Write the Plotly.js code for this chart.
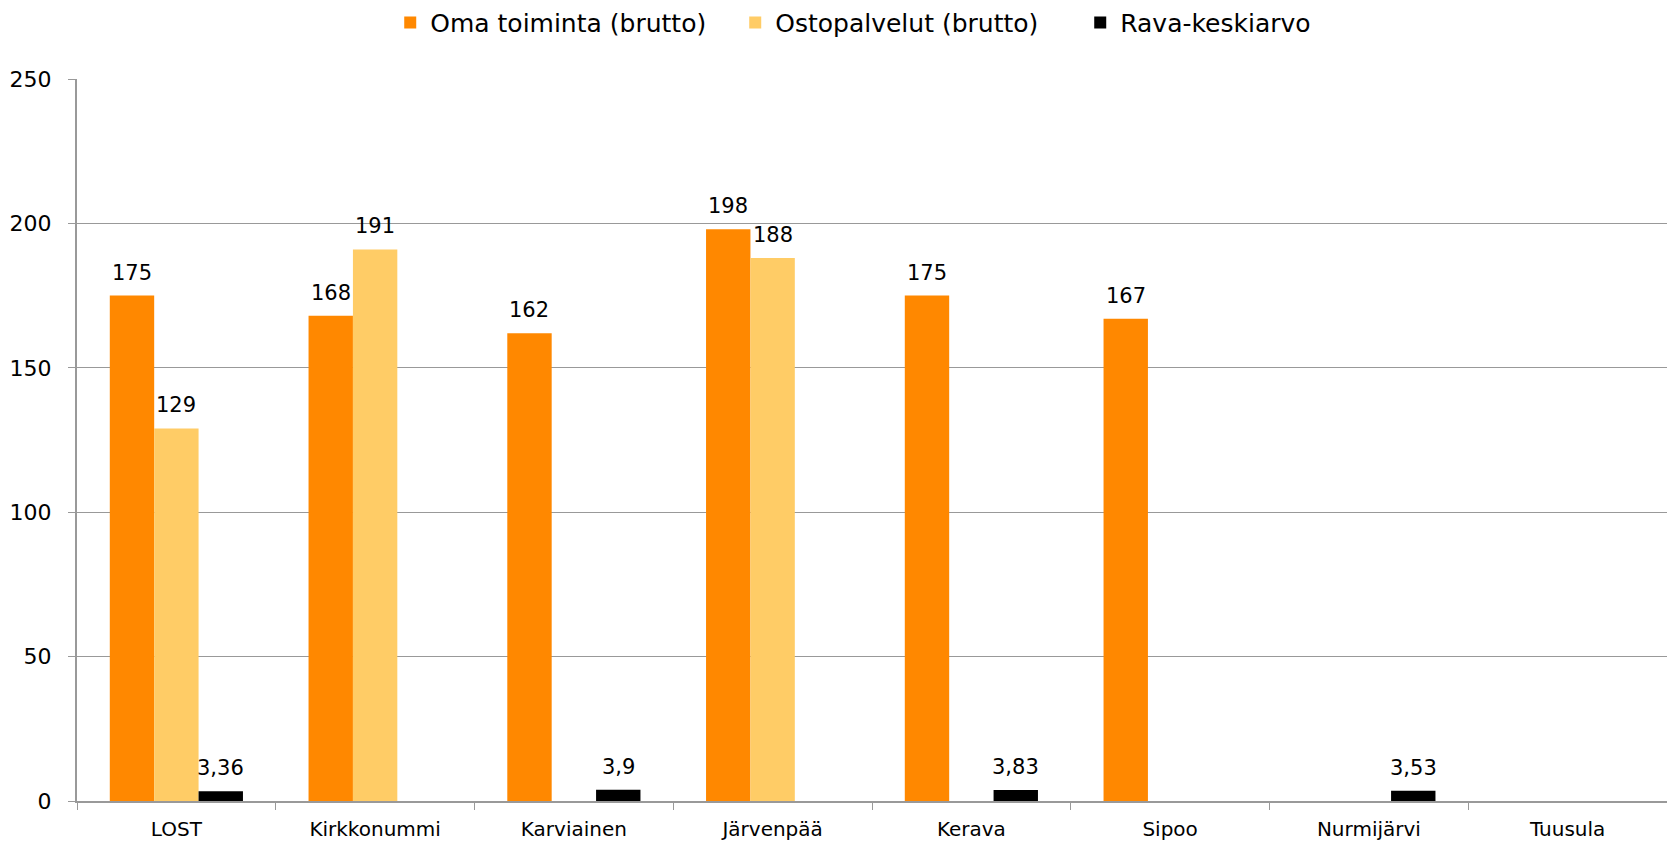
<!DOCTYPE html>
<html>
<head>
<meta charset="utf-8">
<script src="https://cdn.plot.ly/plotly-3.0.1.min.js"></script>
<style>html,body{margin:0;padding:0;background:#fff;}#chart{width:1667px;height:842px;}</style>
</head>
<body>
<div id="chart"></div>
<script>
const categories = ["LOST","Kirkkonummi","Karviainen","Järvenpää","Kerava","Sipoo","Nurmijärvi","Tuusula"];
const omaToiminta = [175,168,162,198,175,167,null,null];
const ostopalvelut = [129,191,null,188,null,null,null,null];
const ravaKeskiarvo = [3.36,null,3.9,null,3.83,null,3.53,null];
const seriesNames = ["Oma toiminta (brutto)","Ostopalvelut (brutto)","Rava-keskiarvo"];
const seriesColors = ["#FF8800","#FFCC66","#000000"];
const yTicks = [0,50,100,150,200,250];

const fmt = v => v === null ? "" : String(v).replace(".", ",");
const font = "DejaVu Sans, sans-serif";
const W = 1667, H = 842, ML = 77, MR = 0, MT = 79, MB = 41;
const bargap = 0.33;
const allSeries = [omaToiminta, ostopalvelut, ravaKeskiarvo];

const data = allSeries.map((vals, s) => ({
  type:"bar", name:seriesNames[s], x:categories, y:vals,
  marker:{color:seriesColors[s]}, hoverinfo:"none"
}));

// value labels as annotations, shifted to their bar within the group
const barPx = (W - ML - MR) / categories.length * (1 - bargap) / allSeries.length;
const annotations = [];
allSeries.forEach((vals, s) => {
  vals.forEach((v, i) => {
    if (v === null) return;
    annotations.push({x:categories[i], y:v, xref:"x", yref:"y", text:fmt(v),
      showarrow:false, yanchor:"bottom", xanchor:"center", yshift:9,
      xshift:(s - (allSeries.length - 1) / 2) * barPx,
      font:{family:font, size:21, color:"#000"}});
  });
});

const layout = {
  width:W, height:H,
  margin:{l:ML,r:MR,t:MT,b:MB,pad:0, autoexpand:false},
  paper_bgcolor:"#fff", plot_bgcolor:"#fff",
  font:{family:font,size:20,color:"#000"},
  barmode:"group", bargap:bargap, bargroupgap:0,
  showlegend:true,
  legend:{orientation:"h", x:0.197, xanchor:"left", y:1.078, yanchor:"middle",
    font:{family:font,size:25,color:"#000"}, itemwidth:30, entrywidth:300, traceorder:"normal"},
  annotations:annotations,
  xaxis:{type:"category", tickson:"boundaries", ticks:"outside", ticklen:7, tickcolor:"#999",
    showline:true, linecolor:"#999", linewidth:2, showgrid:false,
    tickfont:{family:font,size:20,color:"#000"}, automargin:false, ticklabelstandoff:9},
  yaxis:{range:[0,250], tickvals:yTicks, ticks:"outside", ticklen:7, tickcolor:"#999",
    showline:true, linecolor:"#999", linewidth:2, showgrid:true, gridcolor:"#999", gridwidth:1,
    zeroline:false, tickfont:{family:font,size:22,color:"#000"}, automargin:false, ticklabelstandoff:12}
};
Plotly.newPlot("chart", data, layout, {displayModeBar:false, staticPlot:true});
</script>
</body>
</html>
